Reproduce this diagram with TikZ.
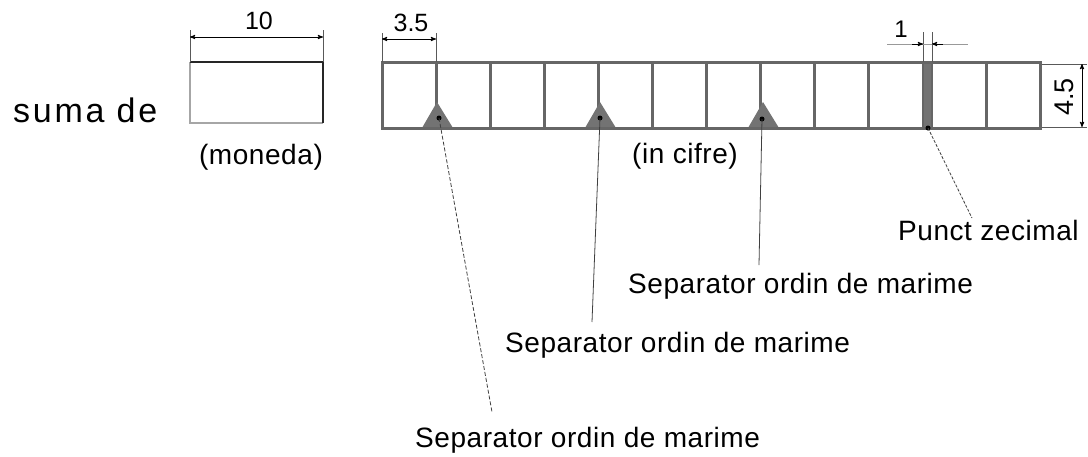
\documentclass[tikz,border=0pt]{standalone}
\usepackage{fontspec}
\setmainfont{Liberation Sans}
\usetikzlibrary{arrows}

\begin{document}
\begin{tikzpicture}[x=1pt,y=-1pt,>=stealth',
  cell line/.style={draw=black!60,line width=3pt},
  dim line/.style={<->,line width=0.9pt},
  ext line/.style={black!65,line width=0.8pt},
  leader/.style={black!75,line width=0.8pt},
  sep mark/.style={fill=black!55},
  label text/.style={font=\fontsize{28}{32}\selectfont\addfontfeature{LetterSpace=2},inner sep=0pt},
  dim text/.style={font=\fontsize{25}{28}\selectfont,inner sep=0pt}]
  \useasboundingbox (0,0) rectangle (1088,456);

  % left box (currency)
  \node[label text, font=\fontsize{34}{38}\selectfont\addfontfeature{LetterSpace=8}, anchor=base west] (suma) at (13,122) {suma de};
  \draw[black!35,line width=1.5pt] (323,123) -- (190,123) -- (190,62);
  \draw[black!85,line width=2pt] (190,62) -- (323,62) -- (323,123);
  \node[label text] (moneda) at (261,157) {(moneda)};

  % digit cells
  \foreach \i in {1,...,9}
    \draw[cell line] ({382+54.1*\i},62) -- ({382+54.1*\i},128);
  \draw[cell line] (986,62) -- (986,128);
  \draw[cell line, fill=black!55, line width=2pt] (923,62) rectangle (932,128);
  \foreach \x in {437,600,763}
    \fill[sep mark] (\x,102) -- (\x+16,128) -- (\x-15,128) -- cycle;
  \draw[cell line] (382,62) rectangle (1040,128);
  \node[label text] (cifre) at (685,156) {(in cifre)};

  % dimensions
  \draw[ext line] (190,30) -- (190,62) (323,30) -- (323,62);
  \draw[dim line] (190,37) -- (323,37);
  \node[dim text] (w10) at (259,21) {10};

  \draw[ext line] (382,33) -- (382,62) (436,33) -- (436,62);
  \draw[dim line] (382,39) -- (436,39);
  \node[dim text] (w35) at (411,23) {3.5};

  \draw[ext line] (923,32) -- (923,62) (932,32) -- (932,62);
  \draw[black!40,line width=0.6pt] (887,44) -- (968,44);
  \draw[->,line width=0.9pt] (912,44) -- (923,44);
  \draw[->,line width=0.9pt] (943,44) -- (932,44);
  \node[dim text, font=\fontsize{24}{28}\selectfont] (w1) at (901,29) {1};

  \draw[ext line] (1042,64) -- (1087,64) (1042,127) -- (1087,127);
  \draw[dim line] (1082,64) -- (1082,127);
  \node[dim text, font=\fontsize{27}{30}\selectfont, rotate=90] (h45) at (1064,97) {4.5};

  % separators and decimal point
  \coordinate (d1) at (439,118);
  \coordinate (d2) at (600,118);
  \coordinate (d3) at (762,119);
  \coordinate (d4) at (928,128);
  \foreach \d in {d1,d2,d3,d4}
    \fill (\d) circle (2.5);

  \node[label text, anchor=base west] (sep1) at (628,293) {Separator ordin de marime};
  \node[label text, anchor=base west] (sep2) at (505,352) {Separator ordin de marime};
  \node[label text, anchor=base west] (sep3) at (415,447) {Separator ordin de marime};
  \node[label text, anchor=base west] (punct) at (898,240) {Punct zecimal};

  \coordinate (t1) at (759,265);
  \coordinate (t2) at (592,322);
  \coordinate (t3) at (492,412);
  \coordinate (t4) at (972,218);
  \draw[leader] (d3) -- (t1);
  \draw[leader] (d2) -- (t2);
  \draw[leader, dash pattern=on 4pt off 2pt] (d1) -- (t3);
  \draw[leader, dash pattern=on 3pt off 1.5pt] (d4) -- (t4);
\end{tikzpicture}
\end{document}
